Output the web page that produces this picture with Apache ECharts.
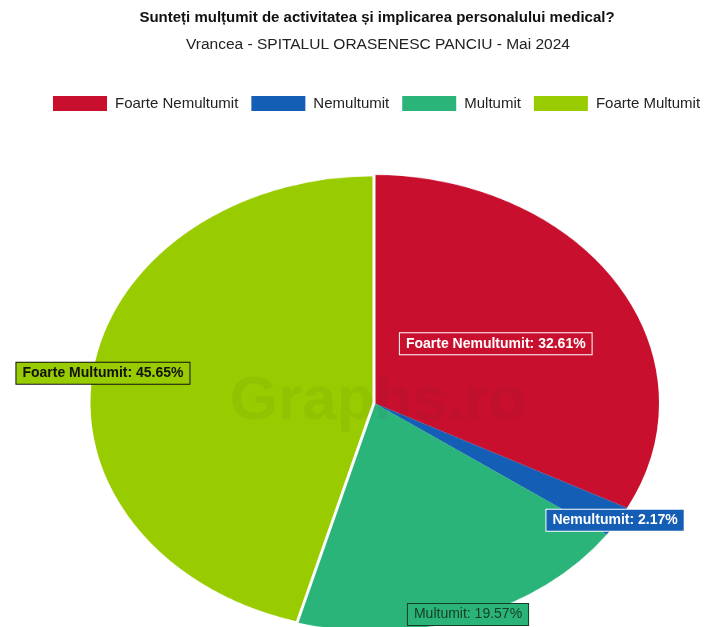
<!DOCTYPE html>
<html>
<head>
<meta charset="utf-8">
<script src="https://cdn.jsdelivr.net/npm/echarts@6/dist/echarts.min.js"></script>
<style>
  html, body { margin:0; padding:0; background:#fff; width:708px; height:627px; overflow:hidden; }
  #pie { position:absolute; left:0; top:0; width:708px; height:800px; transform:scaleY(0.8); transform-origin:0 0; }
  #main { position:absolute; left:0; top:0; width:708px; height:627px; }
</style>
</head>
<body>
<div id="pie"></div>
<div id="main"></div>
<script>
const titleText = 'Sunteți mulțumit de activitatea și implicarea personalului medical?';
const subtitleText = 'Vrancea - SPITALUL ORASENESC PANCIU - Mai 2024';
const categories = ['Foarte Nemultumit', 'Nemultumit', 'Multumit', 'Foarte Multumit'];
const percentages = [32.61, 2.17, 19.57, 45.65];

const colors = ['#C8102E', '#155EB6', '#2AB47A', '#99CC00'];
const labelText = ['#ffffff', '#ffffff', '#173d22', '#111111'];
const labelBorder = ['#ffffff', '#ffffff', '#173d22', '#111111'];
const labelRadius = [0.5, 0.99, 0.985, 0.96];
const FONT = 'Liberation Sans, Arial, sans-serif';

const CX = 374, CY = 403, RX = 285, RY = 228;

// Pie (drawn in a vertically squeezed layer to get the elliptical look)
const pieChart = echarts.init(document.getElementById('pie'), null, { renderer: 'canvas' });
pieChart.setOption({
  animation: false,
  series: [{
    type: 'pie',
    center: [CX, CY / 0.8],
    radius: [0, RX],
    startAngle: 90,
    clockwise: true,
    silent: true,
    label: { show: false },
    labelLine: { show: false },
    data: categories.map((c, i) => ({
      name: c,
      value: percentages[i],
      itemStyle: i === 3
        ? { color: colors[i], borderColor: '#ffffff', borderWidth: 3 }
        : { color: colors[i], borderWidth: 0 }
    }))
  }]
});

// Titles, legend, labels
const total = percentages.reduce((a, b) => a + b, 0);
function midAngle(i) {
  let acc = 0;
  for (let k = 0; k < i; k++) acc += percentages[k];
  return ((acc + percentages[i] / 2) / total) * 2 * Math.PI;
}

const chart = echarts.init(document.getElementById('main'), null, { renderer: 'canvas' });
chart.setOption({
  animation: false,
  title: [
    { text: titleText, left: 372, top: 5, textAlign: 'center',
      textStyle: { fontFamily: FONT, fontSize: 15, fontWeight: 'bold', color: '#111' } },
    { text: subtitleText, left: 373, top: 32, textAlign: 'center',
      textStyle: { fontFamily: FONT, fontSize: 15.5, fontWeight: 'normal', color: '#222' } }
  ],
  legend: {
    left: 48, top: 91,
    icon: 'rect',
    itemWidth: 54, itemHeight: 15, itemGap: 13,
    textStyle: { fontFamily: FONT, fontSize: 15, color: '#222', padding: [0, 0, 0, 3] },
    data: categories.map((c, i) => ({ name: c, itemStyle: { color: colors[i] } }))
  },
  graphic: [{
    type: 'text', x: 378, y: 402, silent: true,
    style: { text: 'Graphs.ro', font: 'bold 62px ' + FONT, fill: 'rgba(40,40,40,0.055)',
      align: 'center', verticalAlign: 'middle', textAlign: 'center', textVerticalAlign: 'middle' }
  }],
  series: [{
    type: 'pie',
    center: [CX, CY],
    radius: [0, RX],
    startAngle: 90,
    clockwise: true,
    silent: true,
    avoidLabelOverlap: false,
    labelLine: { show: false },
    data: categories.map((c, i) => ({
      name: c,
      value: percentages[i],
      itemStyle: { color: 'rgba(0,0,0,0)' },
      label: {
        show: true,
        position: 'inside',
        formatter: '{b}: ' + percentages[i].toFixed(2) + '%',
        fontFamily: FONT,
        fontSize: 14,
        fontWeight: i === 2 ? 'normal' : 'bold',
        color: labelText[i],
        backgroundColor: colors[i],
        borderColor: labelBorder[i],
        borderWidth: 1,
        padding: [4, 6, 3, 6]
      }
    })),
    labelLayout: function (params) {
      const i = params.dataIndex;
      const a = midAngle(i);
      const t = labelRadius[i];
      return {
        x: CX + RX * t * Math.sin(a),
        y: CY - RY * t * Math.cos(a),
        align: 'center',
        verticalAlign: 'middle'
      };
    }
  }]
});
</script>
</body>
</html>
